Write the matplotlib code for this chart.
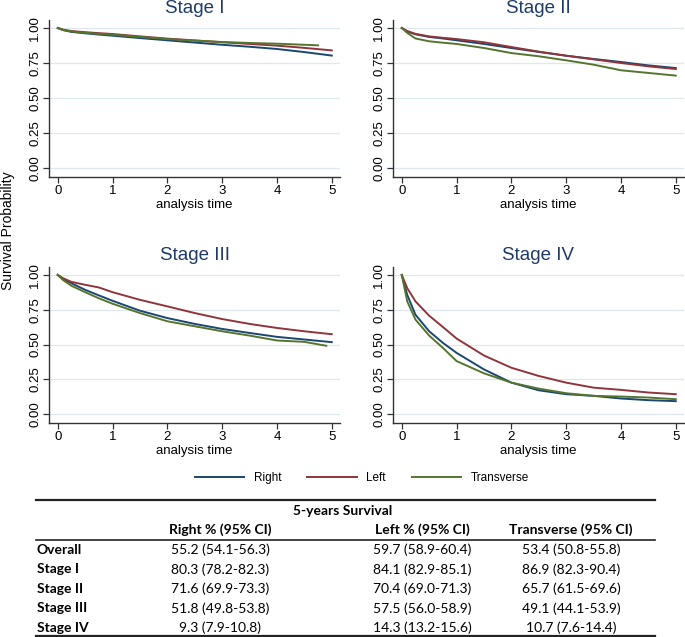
import matplotlib
matplotlib.use("Agg")
import matplotlib.pyplot as plt

plt.rcParams['font.family'] = ['Liberation Sans', 'DejaVu Sans']

# Kaplan-Meier curves (years, survival)
t_std = [0, 0.1, 0.25, 0.5, 0.75, 1, 1.5, 2, 2.5, 3, 3.5, 4, 4.5, 5]

s1_right = [1.0, 0.985, 0.972, 0.962, 0.953, 0.945, 0.928, 0.912, 0.896, 0.880, 0.866, 0.850, 0.828, 0.803]
s1_left = [1.0, 0.988, 0.978, 0.970, 0.963, 0.957, 0.940, 0.924, 0.911, 0.898, 0.886, 0.874, 0.858, 0.840]
s1_trans_t = [0, 0.1, 0.25, 0.5, 0.75, 1, 1.5, 2, 2.5, 3, 3.5, 4, 4.5, 4.75]
s1_trans = [1.0, 0.985, 0.975, 0.966, 0.958, 0.952, 0.936, 0.921, 0.910, 0.900, 0.893, 0.888, 0.880, 0.876]

s2_right = [1.0, 0.975, 0.955, 0.936, 0.925, 0.912, 0.886, 0.857, 0.829, 0.802, 0.779, 0.757, 0.733, 0.714]
s2_left = [1.0, 0.978, 0.958, 0.940, 0.930, 0.921, 0.898, 0.864, 0.831, 0.802, 0.776, 0.750, 0.726, 0.707]
s2_trans = [1.0, 0.965, 0.925, 0.905, 0.895, 0.886, 0.857, 0.821, 0.798, 0.769, 0.738, 0.698, 0.679, 0.660]

s3_right = [1.0, 0.972, 0.940, 0.893, 0.853, 0.814, 0.743, 0.690, 0.648, 0.612, 0.583, 0.555, 0.536, 0.517]
s3_left = [1.0, 0.975, 0.950, 0.929, 0.910, 0.876, 0.821, 0.774, 0.726, 0.683, 0.648, 0.619, 0.595, 0.574]
s3_trans_t = [0, 0.1, 0.25, 0.5, 0.75, 1, 1.5, 2, 2.5, 3, 3.5, 4, 4.5, 4.9]
s3_trans = [1.0, 0.962, 0.922, 0.876, 0.832, 0.793, 0.726, 0.667, 0.631, 0.595, 0.564, 0.529, 0.519, 0.491]

s4_right = [1.0, 0.857, 0.714, 0.595, 0.512, 0.440, 0.321, 0.226, 0.171, 0.143, 0.131, 0.112, 0.100, 0.093]
s4_left = [1.0, 0.905, 0.810, 0.707, 0.626, 0.543, 0.421, 0.333, 0.274, 0.226, 0.190, 0.174, 0.155, 0.143]
s4_trans = [1.0, 0.810, 0.679, 0.564, 0.476, 0.381, 0.293, 0.226, 0.183, 0.150, 0.131, 0.126, 0.119, 0.107]

panels = [
    ("Stage I", [(t_std, s1_right), (t_std, s1_left), (s1_trans_t, s1_trans)]),
    ("Stage II", [(t_std, s2_right), (t_std, s2_left), (t_std, s2_trans)]),
    ("Stage III", [(t_std, s3_right), (t_std, s3_left), (s3_trans_t, s3_trans)]),
    ("Stage IV", [(t_std, s4_right), (t_std, s4_left), (t_std, s4_trans)]),
]
groups = ["Right", "Left", "Transverse"]
colors = ["#1a476f", "#90353b", "#55752f"]

# table data
col_heads = ["Right % (95% CI)", "Left % (95% CI)", "Transverse (95% CI)"]
row_names = ["Overall", "Stage I", "Stage II", "Stage III", "Stage IV"]
right_vals = ["55.2 (54.1-56.3)", "80.3 (78.2-82.3)", "71.6 (69.9-73.3)", "51.8 (49.8-53.8)", "9.3 (7.9-10.8)"]
left_vals = ["59.7 (58.9-60.4)", "84.1 (82.9-85.1)", "70.4 (69.0-71.3)", "57.5 (56.0-58.9)", "14.3 (13.2-15.6)"]
trans_vals = ["53.4 (50.8-55.8)", "86.9 (82.3-90.4)", "65.7 (61.5-69.6)", "49.1 (44.1-53.9)", "10.7 (7.6-14.4)"]

W, H = 685, 637
fig = plt.figure(figsize=(W / 100, H / 100), dpi=100)

# axes boxes in pixels: left, top, right, bottom
boxes = [(49, 20, 340, 177), (393, 20, 684, 177), (49, 267, 340, 423), (393, 267, 684, 423)]
title_col = "#1f3a68"
grid_col = "#dfe8ee"

lines = []
for (title, curves), (l, t, r, b) in zip(panels, boxes):
    ax = fig.add_axes([l / W, 1 - b / H, (r - l) / W, (b - t) / H])
    for (x, y), c in zip(curves, colors):
        ln, = ax.plot(x, y, color=c, lw=1.4)
        lines.append(ln)
    ax.set_xlim(-0.16, 5.15)
    ax.set_ylim(-0.064, 1.057)
    ax.set_yticks([0, 0.25, 0.5, 0.75, 1.0])
    ax.set_yticklabels(["0.00", "0.25", "0.50", "0.75", "1.00"], rotation=90, va="center")
    ax.set_xticks(range(6))
    ax.grid(axis="y", color=grid_col, lw=0.9)
    ax.set_axisbelow(True)
    for s in ["top", "right"]:
        ax.spines[s].set_visible(False)
    for s in ["left", "bottom"]:
        ax.spines[s].set_color("#333333")
        ax.spines[s].set_linewidth(1.0)
    ax.tick_params(labelsize=9.5, length=4.5, width=0.9, color="#333333", pad=1)
    ax.set_xlabel("analysis time", fontsize=9.5, labelpad=2)
    ax.set_title(title, fontsize=13.5, color=title_col, pad=5)

fig.text(8 / W, 1 - 231 / H, "Survival Probability", rotation=90, fontsize=10,
         ha="center", va="center")

fig.legend(lines[:3], groups, loc="center", bbox_to_anchor=(362 / W, 1 - 478 / H),
           ncol=3, frameon=False, fontsize=8.5, handlelength=4.2, columnspacing=2.2,
           handletextpad=0.8)

# table
tab = fig.add_axes([0, 0, 1, 1 - 495 / H])
tab.set_xlim(0, W)
tab.set_ylim(637, 495)
tab.axis("off")
tf = ["Lato", "DejaVu Sans"]
fs = 10
tab.axhline(500, xmin=36 / W, xmax=655 / W, color="#222222", lw=1.6)
tab.axhline(540, xmin=36 / W, xmax=655 / W, color="#222222", lw=1.2)
tab.axhline(636, xmin=36 / W, xmax=655 / W, color="#222222", lw=1.6)
tab.text(343, 511, "5-years Survival", ha="center", va="center", fontsize=fs,
         fontweight="bold", family=tf)
col_x = [220, 422, 571]
for x, h in zip(col_x, col_heads):
    tab.text(x, 530, h, ha="center", va="center", fontsize=fs, fontweight="bold", family=tf)
row_y = [550, 569.5, 589, 608.5, 628]
for i, (y, name) in enumerate(zip(row_y, row_names)):
    tab.text(37, y, name, ha="left", va="center", fontsize=fs, fontweight="bold", family=tf)
    for x, vals in zip(col_x, [right_vals, left_vals, trans_vals]):
        tab.text(x, y, vals[i], ha="center", va="center", fontsize=fs, family=tf)

fig.savefig("out.png", dpi=100)
